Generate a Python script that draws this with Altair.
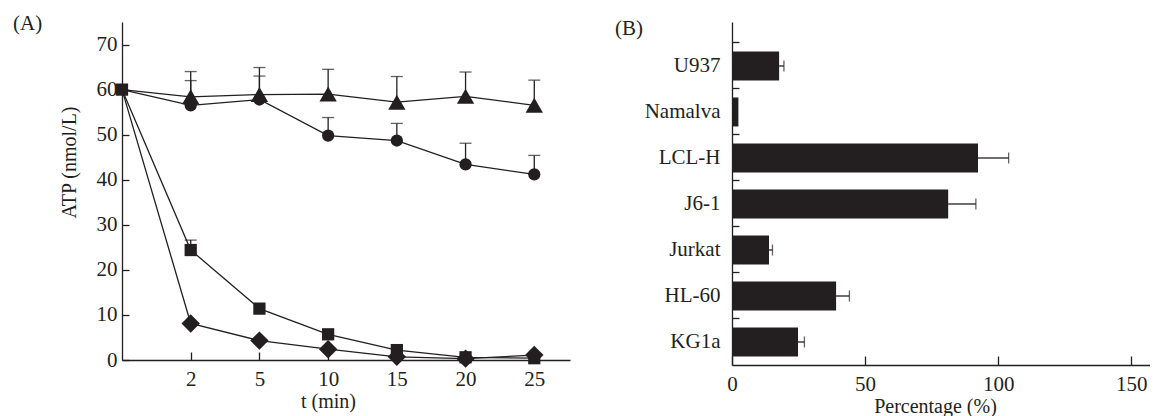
import altair as alt
import pandas as pd

# ---------------- data (A) ----------------
times = [0, 2, 5, 10, 15, 20, 25]
series_order = ["circle", "triangle", "square", "diamond"]
circle_vals = [60, 56.5, 57.8, 49.8, 48.7, 43.4, 41.2]
circle_err = [0, 5.5, 5.2, 4.0, 3.8, 4.7, 4.2]
triangle_vals = [60, 58.4, 58.9, 59.0, 57.2, 58.5, 56.5]
triangle_err = [0, 5.6, 6.0, 5.5, 5.7, 5.4, 5.6]
square_vals = [60, 24.4, 11.4, 5.7, 2.2, 0.6, 0.4]
square_err = [0, 2.2, 0, 0, 0, 0, 0]
diamond_vals = [60, 8.1, 4.3, 2.4, 0.7, 0.3, 1.1]
diamond_err = [0, 0, 0, 0, 0, 0, 0]
y_ticks_a = [0, 10, 20, 30, 40, 50, 60, 70]

# ---------------- data (B) ----------------
cells = ["U937", "Namalva", "LCL-H", "J6-1", "Jurkat", "HL-60", "KG1a"]
pct = [17.7, 2.4, 92.4, 81.2, 13.9, 39.1, 24.8]
pct_err = [1.8, 0, 11.5, 10.4, 1.3, 5.0, 2.4]
x_ticks_b = [0, 50, 100, 150]

INK = "#231f20"
SERIF = "Liberation Serif"

vals = {"circle": (circle_vals, circle_err), "triangle": (triangle_vals, triangle_err),
        "square": (square_vals, square_err), "diamond": (diamond_vals, diamond_err)}
rows = []
for s in series_order:
    v, e = vals[s]
    for i, t in enumerate(times):
        rows.append({"series": s, "pos": i, "time": t, "value": v[i], "err": e[i],
                     "top": v[i] + e[i], "show": not (t == 0 and s != "square")})
df_a = pd.DataFrame(rows)

label_expr = "[" + ",".join("'%s'" % t for t in times) + "][datum.value]"

xa_axis = alt.Axis(values=list(range(1, len(times))), labelExpr=label_expr,
                   tickSize={"expr": "-8"}, labelPadding=16,
                   title="t (min)", titleX=206, titleAlign="center", titlePadding=2)
ya_axis = alt.Axis(values=y_ticks_a, tickSize={"expr": "-7"}, labelPadding=12,
                   title="ATP (nmol/L)", titlePadding=17, titleY=140, titleAlign="center")
xa_scale = alt.Scale(domain=[0, 6.52], nice=False)
ya_scale = alt.Scale(domain=[0, 75], nice=False)
xa = alt.X("pos:Q", scale=xa_scale, axis=xa_axis)
ya = alt.Y("value:Q", scale=ya_scale, axis=ya_axis)

base_a = alt.Chart(df_a).encode(x=xa, y=ya)
lines = base_a.mark_line(color=INK, strokeWidth=1.3).encode(detail="series:N")
err_rules = base_a.mark_rule(color=INK, strokeWidth=1.3).encode(y2="top:Q").transform_filter("datum.err > 0")
err_caps = alt.Chart(df_a).mark_tick(color=INK, orient="horizontal", size=12, thickness=1.3).encode(
    x=xa, y=alt.Y("top:Q", scale=ya_scale, axis=ya_axis)
).transform_filter("datum.err > 0")

marker_style = {"circle": ("circle", 150), "triangle": ("triangle-up", 300),
                "square": ("square", 150), "diamond": ("diamond", 340)}
point_layers = []
for s in series_order:
    shp, sz = marker_style[s]
    point_layers.append(
        base_a.mark_point(filled=True, opacity=1, color=INK, shape=shp, size=sz, strokeWidth=0)
        .transform_filter("datum.show && datum.series == '%s'" % s)
    )

lab_a = alt.Chart(pd.DataFrame({"t": ["(A)"]})).mark_text(
    align="left", baseline="middle", font=SERIF, fontSize=21, color=INK
).encode(x=alt.value(-109), y=alt.value(2), text="t:N")

left = alt.layer(lines, err_rules, err_caps, *point_layers, lab_a).properties(width=448, height=338)

# ---------------- panel (B) ----------------
df_b = pd.DataFrame({"cell": cells, "pct": pct, "err": pct_err,
                     "top": [p + e for p, e in zip(pct, pct_err)]})
yb = alt.Y("cell:N", sort=cells, title=None,
           scale=alt.Scale(paddingInner=0, paddingOuter=0.228, align=1),
           axis=alt.Axis(tickSize={"expr": "-7"}, bandPosition=0, labelPadding=19))
xsc = alt.Scale(domain=[0, 157], nice=False)
xax = alt.Axis(values=x_ticks_b, tickSize={"expr": "-9"}, labelPadding=17,
               title="Percentage (%)", titleX=203, titleAlign="center", titlePadding=2)
base_b = alt.Chart(df_b).encode(y=yb)
bars = base_b.mark_bar(color=INK, size=29).encode(x=alt.X("pct:Q", scale=xsc, axis=xax))
b_rules = base_b.mark_rule(color=INK, strokeWidth=1.3).encode(
    x=alt.X("pct:Q", scale=xsc, axis=xax), x2="top:Q").transform_filter("datum.err > 0")
b_caps = base_b.mark_tick(color=INK, orient="vertical", size=11, thickness=1.3).encode(
    x=alt.X("top:Q", scale=xsc, axis=xax)).transform_filter("datum.err > 0")
lab_b = alt.Chart(pd.DataFrame({"t": ["(B)"]})).mark_text(
    align="left", baseline="middle", font=SERIF, fontSize=21, color=INK
).encode(x=alt.value(-117), y=alt.value(6.5), text="t:N")

right = alt.layer(bars, b_rules, b_caps, lab_b).properties(width=418, height=343)

chart = alt.hconcat(left, right, spacing=45).properties(
    padding={"left": 5, "top": 5, "right": 0, "bottom": 0}
).configure_view(stroke=None).configure_axis(
    grid=False, domainColor=INK, domainWidth=1.3, tickColor=INK, tickWidth=1.3,
    labelFont=SERIF, labelFontSize=21, labelColor=INK, labelFlush=False,
    titleFont=SERIF, titleFontSize=20, titleColor=INK, titleFontWeight="normal",
)

chart.save("out.html", embed_options={"renderer": "svg", "actions": False})
